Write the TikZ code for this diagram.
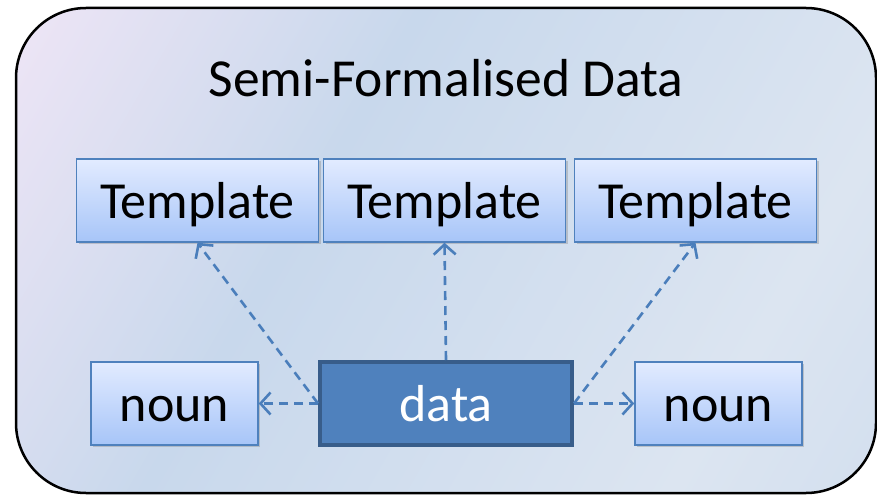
\documentclass[tikz,border=0pt]{standalone}
\usepackage{fontspec}
\setmainfont{Carlito}
\usetikzlibrary{arrows.meta,shadows}

\definecolor{bgpink}{HTML}{F4E7F7}
\definecolor{bgmid}{HTML}{C8D8EC}
\definecolor{bglight}{HTML}{DCE5F1}
\definecolor{tpltop}{HTML}{E2EBFF}
\definecolor{tplbot}{HTML}{A7C5F8}
\definecolor{boxedge}{HTML}{4F81BD}
\definecolor{datafill}{HTML}{4F81BD}
\definecolor{dataedge}{HTML}{385D8A}
\definecolor{linkblue}{HTML}{4A7EBB}

\pgfdeclarehorizontalshading{panelshade}{100bp}{%
  color(0bp)=(bgpink); color(12bp)=(bgpink); color(40bp)=(bgmid); color(72bp)=(bglight); color(100bp)=(bgmid)}

\tikzset{
  bigtext/.style={font=\fontsize{52}{62}\selectfont, text height=35pt, text depth=0pt, inner sep=0pt},
  lightbox/.style={bigtext, draw=boxedge, line width=1.5pt,
    top color=tpltop, bottom color=tplbot,
    drop shadow={opacity=0.35, shadow xshift=2pt, shadow yshift=-2pt},
    minimum height=83pt},
  tplbox/.style={lightbox, minimum width=242pt},
  nounbox/.style={lightbox, minimum width=167pt},
  databox/.style={bigtext, text=white, draw=dataedge, line width=4pt, fill=datafill,
    minimum width=252pt, minimum height=83pt},
  link/.style={draw=linkblue, line width=2.6pt, dash pattern=on 9pt off 6pt,
    -{Straight Barb[length=10pt,width=22pt,line width=2.6pt]}}
}

\begin{document}
\begin{tikzpicture}[x=1pt,y=-1pt]
\useasboundingbox (0,0) rectangle (877,497);

% outer panel
\shade[shading=panelshade, shading angle=-30, rounded corners=70pt]
  (16,8) rectangle (876,493);
\draw[line width=2.5pt, rounded corners=70pt] (16,8) rectangle (876,493);

% title
\node[font=\fontsize{53.5}{64}\selectfont, anchor=base] (title) at (446,97) {Semi-Formalised Data};

% templates
\node[tplbox] (t1) at (197.5,200.5) {Template};
\node[tplbox] (t2) at (444.5,200.5) {Template};
\node[tplbox] (t3) at (695.5,200.5) {Template};

% bottom row
\node[nounbox] (n1) at (174.5,403.5) {noun};
\node[nounbox] (n2) at (718.5,403.5) {noun};
\node[databox] (d) at (446,403.5) {data};

% links
\draw[link] (d.north) -- (t2.south);
\draw[link] (d.west) -- (t1.south);
\draw[link] (d.east) -- (t3.south);
\draw[link] (d.west) -- (n1.east);
\draw[link] (d.east) -- (n2.west);
\end{tikzpicture}
\end{document}
